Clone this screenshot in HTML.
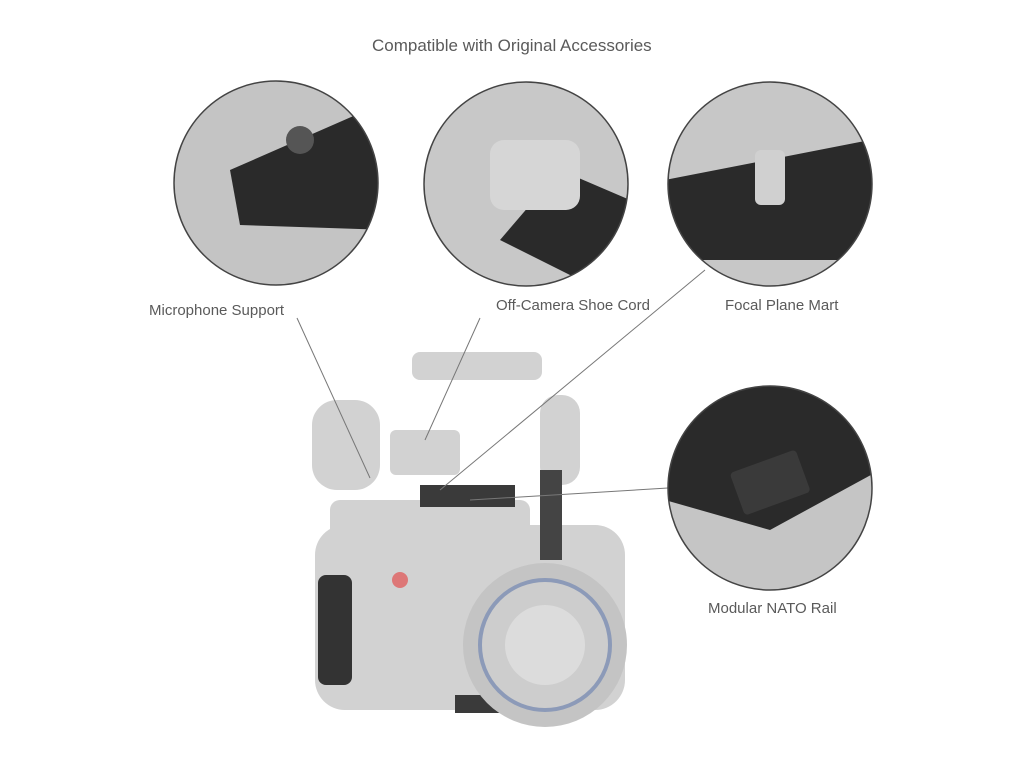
<!DOCTYPE html>
<html><head><style>
body{margin:0;width:1024px;height:768px;background:#fff;position:relative;overflow:hidden;font-family:"Liberation Sans",sans-serif;color:#5a5a5a}
.t{position:absolute;font-size:15px;white-space:nowrap}
</style></head><body>
<svg width="1024" height="768" style="position:absolute;left:0;top:0">
<defs>
<clipPath id="c1"><circle cx="276" cy="183" r="102"/></clipPath>
<clipPath id="c2"><circle cx="526" cy="184" r="102"/></clipPath>
<clipPath id="c3"><circle cx="770" cy="184" r="102"/></clipPath>
<clipPath id="c4"><circle cx="770" cy="488" r="102"/></clipPath>
</defs>
<!-- camera -->
<g fill="#d2d2d2">
<rect x="412" y="352" width="130" height="28" rx="8"/>
<rect x="540" y="395" width="40" height="90" rx="18"/>
<rect x="312" y="400" width="68" height="90" rx="25"/>
<rect x="390" y="430" width="70" height="45" rx="6"/>
<rect x="315" y="525" width="310" height="185" rx="30"/>
<rect x="330" y="500" width="200" height="40" rx="10"/>
</g>
<rect x="420" y="485" width="95" height="22" fill="#3a3a3a"/>
<rect x="540" y="470" width="22" height="90" fill="#444"/>
<rect x="318" y="575" width="34" height="110" rx="8" fill="#333"/>
<rect x="455" y="695" width="50" height="18" fill="#3a3a3a"/>
<circle cx="400" cy="580" r="8" fill="#d77"/>
<circle cx="545" cy="645" r="82" fill="#c4c4c4"/>
<circle cx="545" cy="645" r="65" fill="#cdcdcd" stroke="#8c9ab8" stroke-width="4"/>
<circle cx="545" cy="645" r="40" fill="#dcdcdc"/>
<!-- connectors -->
<g stroke="#777" stroke-width="1">
<line x1="297" y1="318" x2="370" y2="478"/>
<line x1="480" y1="318" x2="425" y2="440"/>
<line x1="705" y1="270" x2="440" y2="490"/>
<line x1="668" y1="488" x2="470" y2="500"/>
</g>
<!-- circles -->
<g clip-path="url(#c1)">
<rect x="170" y="80" width="220" height="210" fill="#c4c4c4"/>
<polygon points="230,170 390,100 390,230 240,225" fill="#2a2a2a"/>
<circle cx="300" cy="140" r="14" fill="#555"/>
</g>
<circle cx="276" cy="183" r="102" fill="none" stroke="#444" stroke-width="1.5"/>
<g clip-path="url(#c2)">
<rect x="420" y="80" width="220" height="210" fill="#c8c8c8"/>
<polygon points="500,240 560,170 630,200 600,290" fill="#2a2a2a"/>
<rect x="490" y="140" width="90" height="70" rx="14" fill="#d6d6d6"/>
</g>
<circle cx="526" cy="184" r="102" fill="none" stroke="#444" stroke-width="1.5"/>
<g clip-path="url(#c3)">
<rect x="665" y="80" width="220" height="210" fill="#c7c7c7"/>
<polygon points="665,180 870,140 880,260 665,260" fill="#2a2a2a"/>
<rect x="755" y="150" width="30" height="55" rx="6" fill="#d0d0d0"/>
</g>
<circle cx="770" cy="184" r="102" fill="none" stroke="#444" stroke-width="1.5"/>
<g clip-path="url(#c4)">
<rect x="665" y="385" width="220" height="210" fill="#c5c5c5"/>
<polygon points="665,385 880,385 880,470 770,530 665,500" fill="#2a2a2a"/>
<rect x="735" y="460" width="70" height="45" rx="4" fill="#3a3a3a" transform="rotate(-20 770 482)"/>
</g>
<circle cx="770" cy="488" r="102" fill="none" stroke="#444" stroke-width="1.5"/>
</svg>
<div class="t" style="left:372px;top:36px;font-size:17px">Compatible with Original Accessories</div>
<div class="t" style="left:149px;top:302px">Microphone Support</div>
<div class="t" style="left:496px;top:297px">Off-Camera Shoe Cord</div>
<div class="t" style="left:725px;top:297px">Focal Plane Mart</div>
<div class="t" style="left:708px;top:600px">Modular NATO Rail</div>
</body></html>
